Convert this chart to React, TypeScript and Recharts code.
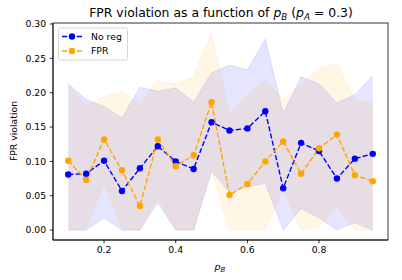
import { Area, ComposedChart, Customized, Line, XAxis, YAxis } from "recharts";

const pB = [0.1, 0.15, 0.2, 0.25, 0.3, 0.35, 0.4, 0.45, 0.5, 0.55, 0.6, 0.65, 0.7, 0.75, 0.8, 0.85, 0.9, 0.95];
const noRegMean = [0.081, 0.082, 0.101, 0.057, 0.09, 0.122, 0.1, 0.089, 0.157, 0.145, 0.148, 0.173, 0.061, 0.127, 0.115, 0.075, 0.104, 0.111];
const noRegLower = [0, 0, 0.018, 0, 0, 0.04, 0, 0, 0.086, 0.055, 0.063, 0.068, 0, 0.031, 0.018, 0, 0.011, 0];
const noRegUpper = [0.213, 0.19, 0.18, 0.163, 0.208, 0.202, 0.207, 0.186, 0.229, 0.24, 0.233, 0.278, 0.17, 0.223, 0.213, 0.185, 0.197, 0.225];
const fprMean = [0.101, 0.073, 0.132, 0.087, 0.035, 0.132, 0.093, 0.109, 0.186, 0.051, 0.067, 0.1, 0.129, 0.082, 0.119, 0.139, 0.08, 0.071];
const fprLower = [0, 0, 0.069, 0, 0, 0.047, 0, 0, 0.087, 0, 0, 0, 0.06, 0, 0.004, 0.034, 0, 0];
const fprUpper = [0.211, 0.181, 0.194, 0.201, 0.183, 0.217, 0.213, 0.224, 0.287, 0.17, 0.196, 0.218, 0.19, 0.212, 0.235, 0.242, 0.19, 0.184];
const xTicks = [0.2, 0.4, 0.6, 0.8];
const yTicks = [0, 0.05, 0.1, 0.15, 0.2, 0.25, 0.3];

const BLUE = "#0000ff";
const ORANGE = "#ffa500";
const FONT = "DejaVu Sans, sans-serif";

const data = pB.map((p, i) => ({
	p,
	noReg: noRegMean[i],
	fpr: fprMean[i],
	noRegBand: [noRegLower[i], noRegUpper[i]],
	fprBand: [fprLower[i], fprUpper[i]],
}));

function Decorations() {
	return (
		<g fontFamily={FONT} fill="#000">
			<rect x={53} y={23} width={335} height={217} fill="none" stroke="#000" strokeWidth={0.8} />
			<text x={221} y={17} fontSize={12.4} textAnchor="middle">
				FPR violation as a function of <tspan fontStyle="italic">p</tspan>
				<tspan fontSize={8.8} fontStyle="italic" dy={2.8}>B</tspan>
				<tspan dy={-2.8}> (</tspan>
				<tspan fontStyle="italic">p</tspan>
				<tspan fontSize={8.8} fontStyle="italic" dy={2.8}>A</tspan>
				<tspan dy={-2.8}> = 0.3)</tspan>
			</text>
			<text x={220} y={270} fontSize={9.5} textAnchor="middle">
				<tspan fontStyle="italic">p</tspan>
				<tspan fontSize={7} fontStyle="italic" dy={2}>B</tspan>
			</text>
			<text x={17} y={131} fontSize={9.3} textAnchor="middle" transform="rotate(-90 17 131)">
				FPR violation
			</text>
			<rect x={58.5} y={28} width={69} height={32} rx={2} fill="#fff" fillOpacity={0.8} stroke="#cccccc" strokeWidth={0.8} />
			{[
				{ label: "No reg", color: BLUE, y: 36.5 },
				{ label: "FPR", color: ORANGE, y: 51 },
			].map((e) => (
				<g key={e.label}>
					<line x1={62} x2={82} y1={e.y} y2={e.y} stroke={e.color} strokeWidth={1.4} strokeDasharray="5.2 2.2" />
					<circle cx={72} cy={e.y} r={3.2} fill={e.color} />
					<text x={91} y={e.y + 3.4} fontSize={9.3}>
						{e.label}
					</text>
				</g>
			))}
		</g>
	);
}

export default function App() {
	return (
		<div style={{ position: "absolute", left: 0, top: 0, background: "#fff" }}>
			<ComposedChart width={402} height={280} data={data} margin={{ top: 23, right: 14, bottom: 15, left: 0 }}>
				<XAxis
					dataKey="p"
					type="number"
					domain={[0.0575, 0.9925]}
					ticks={xTicks}
					tickFormatter={(v) => v.toFixed(1)}
					height={25}
					tickSize={3.3}
					tickMargin={3}
					stroke="#000"
					strokeWidth={0.8}
					tick={{ fontSize: 9.3, fill: "#000", fontFamily: FONT }}
					allowDataOverflow
				/>
				<YAxis
					type="number"
					domain={[-0.0144, 0.3014]}
					ticks={yTicks}
					tickFormatter={(v) => v.toFixed(2)}
					width={53}
					tickSize={3.3}
					tickMargin={3.5}
					stroke="#000"
					strokeWidth={0.8}
					tick={{ fontSize: 9.3, fill: "#000", fontFamily: FONT }}
					allowDataOverflow
				/>
				<Area
					dataKey="noRegBand"
					type="linear"
					fill={BLUE}
					fillOpacity={0.1}
					stroke={BLUE}
					strokeOpacity={0.1}
					strokeWidth={1}
					isAnimationActive={false}
				/>
				<Area
					dataKey="fprBand"
					type="linear"
					fill={ORANGE}
					fillOpacity={0.1}
					stroke={ORANGE}
					strokeOpacity={0.1}
					strokeWidth={1}
					isAnimationActive={false}
				/>
				<Line
					dataKey="noReg"
					type="linear"
					stroke={BLUE}
					strokeWidth={1.4}
					strokeDasharray="5.2 2.2"
					dot={{ r: 3.2, fill: BLUE, stroke: BLUE, strokeWidth: 0, strokeDasharray: "" }}
					isAnimationActive={false}
				/>
				<Line
					dataKey="fpr"
					type="linear"
					stroke={ORANGE}
					strokeWidth={1.4}
					strokeDasharray="5.2 2.2"
					dot={{ r: 3.2, fill: ORANGE, stroke: ORANGE, strokeWidth: 0, strokeDasharray: "" }}
					isAnimationActive={false}
				/>
				<Customized component={Decorations} />
			</ComposedChart>
		</div>
	);
}
